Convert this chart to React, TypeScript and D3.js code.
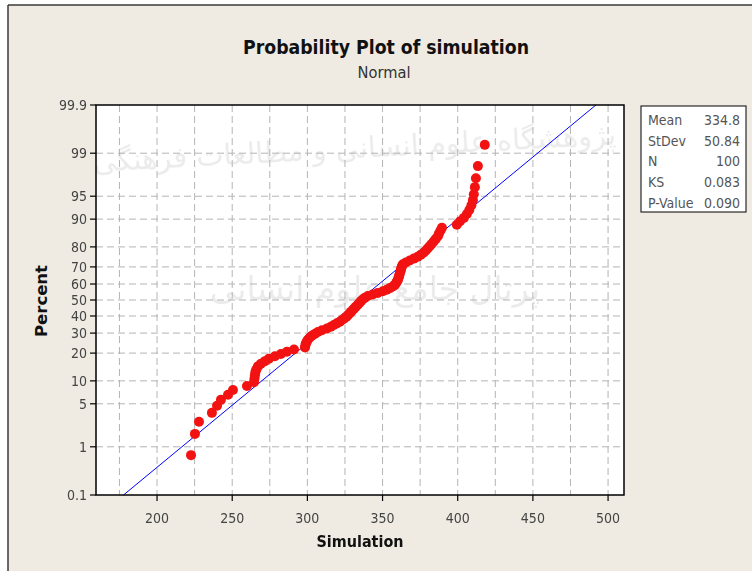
import React from "react";
import * as d3 from "d3";

// sorted simulation results
const simulation = [
  222.6, 225.2, 227.9, 236.5, 239.9, 242.5, 247.2, 250.5, 259.8, 264.5,
  264.8, 265.1, 265.4, 266.1, 267.1, 269.1, 271.8, 274.4, 278.4, 282.4,
  286.4, 291.1, 298.4, 298.7, 299.0, 299.7, 300.4, 301.7, 303.0, 305.0,
  307.0, 309.7, 313.0, 315.6, 317.6, 319.6, 321.6, 323.0, 324.6, 326.0,
  327.0, 328.0, 329.0, 330.0, 331.0, 332.0, 333.0, 334.0, 334.9, 335.9,
  336.9, 338.3, 340.2, 343.4, 346.8, 350.2, 352.8, 354.9, 356.9, 358.2,
  358.9, 359.5, 360.2, 360.5, 360.9, 361.2, 361.5, 361.9, 362.2, 362.5,
  362.9, 363.5, 365.5, 368.1, 370.8, 373.5, 375.5, 377.5, 378.8, 380.1,
  381.5, 382.8, 384.1, 385.5, 386.8, 387.5, 388.5, 389.5, 399.4, 401.4,
  404.1, 406.1, 407.7, 409.1, 410.1, 410.7, 411.4, 412.1, 413.4, 418.0
];

const pctTicks = [0.1, 1, 5, 10, 20, 30, 40, 50, 60, 70, 80, 90, 95, 99, 99.9];
const xTicks = [200, 250, 300, 350, 400, 450, 500];
const xGrid = [175, 200, 225, 250, 275, 300, 325, 350, 375, 400, 425, 450, 475, 500];
const fitEnds = [0.1, 99.9];
const fitMean = 334.8;
const fitSd = 50.84;
const statLabels = ["Mean", "StDev", "N", "KS", "P-Value"];
const statValues = ["334.8", "50.84", "100", "0.083", "0.090"];

// inverse standard normal cdf (Acklam)
function probit(p: number): number {
  const a = [-39.69683028665376, 220.9460984245205, -275.9285104469687, 138.357751867269, -30.66479806614716, 2.506628277459239];
  const b = [-54.47609879822406, 161.5858368580409, -155.6989798598866, 66.80131188771972, -13.28068155288572];
  const c = [-0.007784894002430293, -0.3223964580411365, -2.400758277161838, -2.549732539343734, 4.374664141464968, 2.938163982698783];
  const d = [0.007784695709041462, 0.3224671290700398, 2.445134137142996, 3.754408661907416];
  const pl = 0.02425;
  if (p < pl) {
    const q = Math.sqrt(-2 * Math.log(p));
    return (((((c[0] * q + c[1]) * q + c[2]) * q + c[3]) * q + c[4]) * q + c[5]) / ((((d[0] * q + d[1]) * q + d[2]) * q + d[3]) * q + 1);
  }
  if (p > 1 - pl) {
    const q = Math.sqrt(-2 * Math.log(1 - p));
    return -(((((c[0] * q + c[1]) * q + c[2]) * q + c[3]) * q + c[4]) * q + c[5]) / ((((d[0] * q + d[1]) * q + d[2]) * q + d[3]) * q + 1);
  }
  const q = p - 0.5;
  const r = q * q;
  return (((((a[0] * r + a[1]) * r + a[2]) * r + a[3]) * r + a[4]) * r + a[5]) * q / (((((b[0] * r + b[1]) * r + b[2]) * r + b[3]) * r + b[4]) * r + 1);
}

const W = 752;
const H = 571;
const margin = { top: 105, right: 128, bottom: 76, left: 96 };
const FONT = "'Liberation Sans Narrow', 'DejaVu Sans Condensed', 'Arial Narrow', sans-serif";

export default function App() {
  const x = d3.scaleLinear().domain([159.4, 510.6]).range([margin.left, W - margin.right]);
  const y = d3
    .scaleLinear()
    .domain([probit(0.001), probit(0.999)])
    .range([H - margin.bottom, margin.top]);

  const n = simulation.length;
  const points = simulation.map((v, i) => ({ v, p: (i + 1 - 0.3) / (n + 0.4) }));

  const fitLine = d3
    .line<number>()
    .x(p => x(fitMean + fitSd * probit(p / 100)))
    .y(p => y(probit(p / 100)));

  const x0 = margin.left;
  const x1 = W - margin.right;
  const y0 = margin.top;
  const y1 = H - margin.bottom;

  return (
    <svg
      width={W}
      height={H}
      style={{ position: "absolute", left: 0, top: 0, display: "block" }}
      fontFamily={FONT}
    >
      <rect x={0} y={0} width={W} height={H} fill="#ffffff" />
      <rect x={8} y={5} width={W} height={H} fill="#efebe2" />
      <line x1={8} y1={5} x2={W} y2={5} stroke="#3a3a3a" strokeWidth={1.5} />
      <line x1={8} y1={5} x2={8} y2={H} stroke="#3a3a3a" strokeWidth={1.5} />

      {/* titles */}
      <text x={386} y={54} textAnchor="middle" fontSize={19} fontWeight="bold" fill="#111"
        textLength={286} lengthAdjust="spacingAndGlyphs">
        Probability Plot of simulation
      </text>
      <text x={384} y={78} textAnchor="middle" fontSize={15} fill="#333"
        textLength={53} lengthAdjust="spacingAndGlyphs">
        Normal
      </text>

      {/* plot area */}
      <rect x={x0} y={y0} width={x1 - x0} height={y1 - y0} fill="#ffffff" />

      {/* watermark */}
      <g fill="#000" opacity={0.08} fontFamily="'DejaVu Sans', sans-serif">
        <text x={355} y={158} textAnchor="middle" fontSize={29} direction="rtl"
          transform="rotate(-3 355 158)">
          پژوهشگاه علوم انسانی و مطالعات فرهنگی
        </text>
        <text x={375} y={300} textAnchor="middle" fontSize={33} direction="rtl">
          پرتال جامع علوم انسانی
        </text>
      </g>

      {/* grid */}
      <g stroke="#b4b4b4" strokeWidth={1} strokeDasharray="7,4">
        {xGrid.map(v => (
          <line key={"gx" + v} x1={x(v)} x2={x(v)} y1={y0} y2={y1} />
        ))}
        {pctTicks.slice(1, -1).map(p => (
          <line key={"gy" + p} x1={x0} x2={x1} y1={y(probit(p / 100))} y2={y(probit(p / 100))} />
        ))}
      </g>

      {/* fitted line */}
      <path d={fitLine(fitEnds) || ""} fill="none" stroke="#0000ff" strokeWidth={1} />

      {/* points */}
      <g fill="#f21212">
        {points.map((d, i) => (
          <circle key={i} cx={x(d.v)} cy={y(probit(d.p))} r={5} />
        ))}
      </g>

      <rect x={x0} y={y0} width={x1 - x0} height={y1 - y0} fill="none" stroke="#000" strokeWidth={1.5} />

      {/* y axis */}
      <g fontSize={14} fill="#444">
        {pctTicks.map(p => (
          <g key={"ty" + p}>
            <line x1={x0 - 6} x2={x0} y1={y(probit(p / 100))} y2={y(probit(p / 100))} stroke="#000" strokeWidth={1.2} />
            <text x={x0 - 9} y={y(probit(p / 100)) + 5} textAnchor="end">{p}</text>
          </g>
        ))}
      </g>

      {/* x axis */}
      <g fontSize={14} fill="#444">
        {xTicks.map(v => (
          <g key={"tx" + v}>
            <line x1={x(v)} x2={x(v)} y1={y1} y2={y1 + 6} stroke="#000" strokeWidth={1.2} />
            <text x={x(v)} y={y1 + 28} textAnchor="middle">{v}</text>
          </g>
        ))}
      </g>

      <text x={360} y={547} textAnchor="middle" fontSize={16} fontWeight="bold" fill="#111"
        textLength={87} lengthAdjust="spacingAndGlyphs">
        Simulation
      </text>
      <text transform="translate(47,301) rotate(-90)" textAnchor="middle" fontSize={16} fontWeight="bold"
        fill="#111" textLength={72} lengthAdjust="spacingAndGlyphs">
        Percent
      </text>

      {/* stats box */}
      <rect x={641} y={106} width={105} height={106} fill="#ffffff" stroke="#000" strokeWidth={1} />
      <g fontSize={14} fill="#555">
        {statLabels.map((s, i) => (
          <g key={s}>
            <text x={648} y={125 + i * 20.7}>{s}</text>
            <text x={740} y={125 + i * 20.7} textAnchor="end">{statValues[i]}</text>
          </g>
        ))}
      </g>
    </svg>
  );
}
